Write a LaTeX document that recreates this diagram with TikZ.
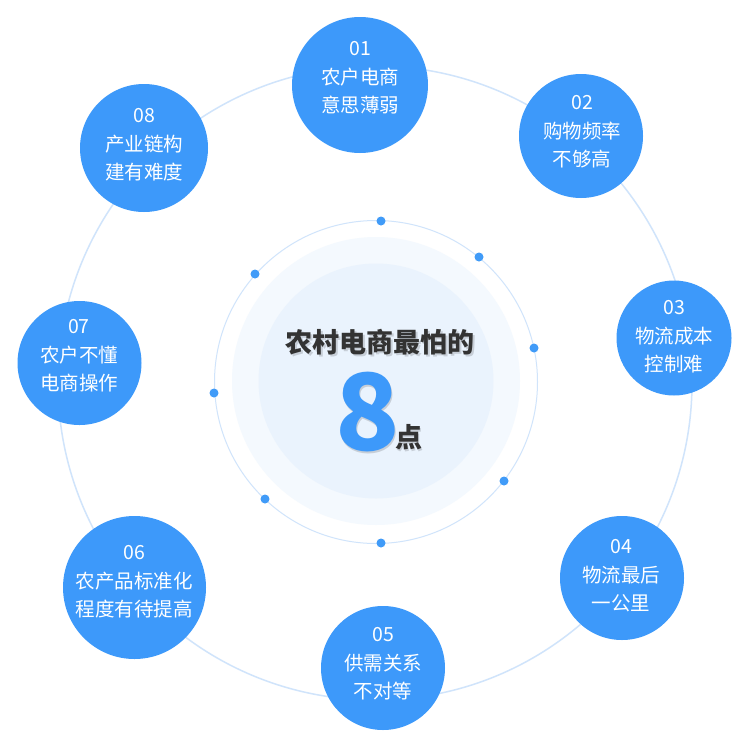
\documentclass[tikz,border=0pt]{standalone}
\usepackage{fontspec}
\setmainfont{Noto Sans CJK SC}
\definecolor{bub}{RGB}{61,153,250}
\definecolor{ringc}{RGB}{208,228,251}
\definecolor{discA}{RGB}{244,249,254}
\definecolor{discB}{RGB}{234,243,253}
\definecolor{dotc}{RGB}{64,155,248}
\definecolor{titlec}{RGB}{51,51,51}
\tikzset{
  bubble/.style={circle, fill=bub, inner sep=0pt},
  btext/.style={text=white, align=center, inner sep=0pt, font=\fontsize{19.5}{28.5}\selectfont},
  ringdot/.style={circle, fill=dotc, inner sep=0pt, minimum size=9pt},
  ringline/.style={draw=ringc, line width=1.2pt},
}
\begin{document}
\begin{tikzpicture}[x=1pt,y=-1pt]
\useasboundingbox (0,0) rectangle (750,750);
\fill[white] (0,0) rectangle (750,750);
% outer faint ring
\draw[ringline, line width=1.5pt] (375,383) circle[radius=317pt];
% central discs
\fill[discA] (376,381) circle[radius=144pt];
\fill[discB] (376,381) circle[radius=117.5pt];
\draw[ringline, line width=1pt] (376,382) circle[radius=161.5pt];
% dots on inner ring
\node[ringdot] (d1) at (381,221) {};
\node[ringdot] (d2) at (479,257) {};
\node[ringdot] (d3) at (534,348) {};
\node[ringdot] (d4) at (504,481) {};
\node[ringdot] (d5) at (381,543) {};
\node[ringdot] (d6) at (265,499) {};
\node[ringdot] (d7) at (214,393) {};
\node[ringdot] (d8) at (255,274) {};
% bubbles
\node[bubble, minimum size=136pt] (b1) at (360,85) {};
\node[bubble, minimum size=124pt] (b2) at (581,136) {};
\node[bubble, minimum size=115pt] (b3) at (674,338) {};
\node[bubble, minimum size=124pt] (b4) at (622,578) {};
\node[bubble, minimum size=124pt] (b5) at (383,668) {};
\node[bubble, minimum size=143pt] (b6) at (134.5,587.5) {};
\node[bubble, minimum size=124pt] (b7) at (79.5,363) {};
\node[bubble, minimum size=128pt] (b8) at (144,148) {};
% bubble texts
\node[btext] (t1) at (360,78) {01\\农户电商\\意思薄弱};
\node[btext] (t2) at (582,132) {02\\购物频率\\不够高};
\node[btext] (t3) at (674,337) {03\\物流成本\\控制难};
\node[btext] (t4) at (621,576) {04\\物流最后\\一公里};
\node[btext] (t5) at (383,664) {05\\供需关系\\不对等};
\node[btext] (t6) at (134,582) {06\\农产品标准化\\程度有待提高};
\node[btext] (t7) at (79,356) {07\\农户不懂\\电商操作};
\node[btext] (t8) at (144,145) {08\\产业链构\\建有难度};
% central title with soft shadow
\node[text=black, opacity=0.15, inner sep=0pt, font=\fontsize{27}{30}\selectfont\bfseries] at (381.5,344) {农村电商最怕的};
\node[text=titlec, inner sep=0pt, font=\fontsize{27}{30}\selectfont\bfseries] (title) at (380,342) {农村电商最怕的};
\node[text=black, opacity=0.15, inner sep=0pt, anchor=base, font=\fontsize{106}{110}\selectfont\bfseries] at (369,452) {8};
\node[text=bub, inner sep=0pt, anchor=base, font=\fontsize{106}{110}\selectfont\bfseries] (eight) at (367.5,450) {8};
\node[text=black, opacity=0.15, inner sep=0pt, anchor=base west, font=\fontsize{27}{30}\selectfont\bfseries] at (396.5,449) {点};
\node[text=titlec, inner sep=0pt, anchor=base west, font=\fontsize{27}{30}\selectfont\bfseries] (dian) at (395,447) {点};
\end{tikzpicture}
\end{document}
